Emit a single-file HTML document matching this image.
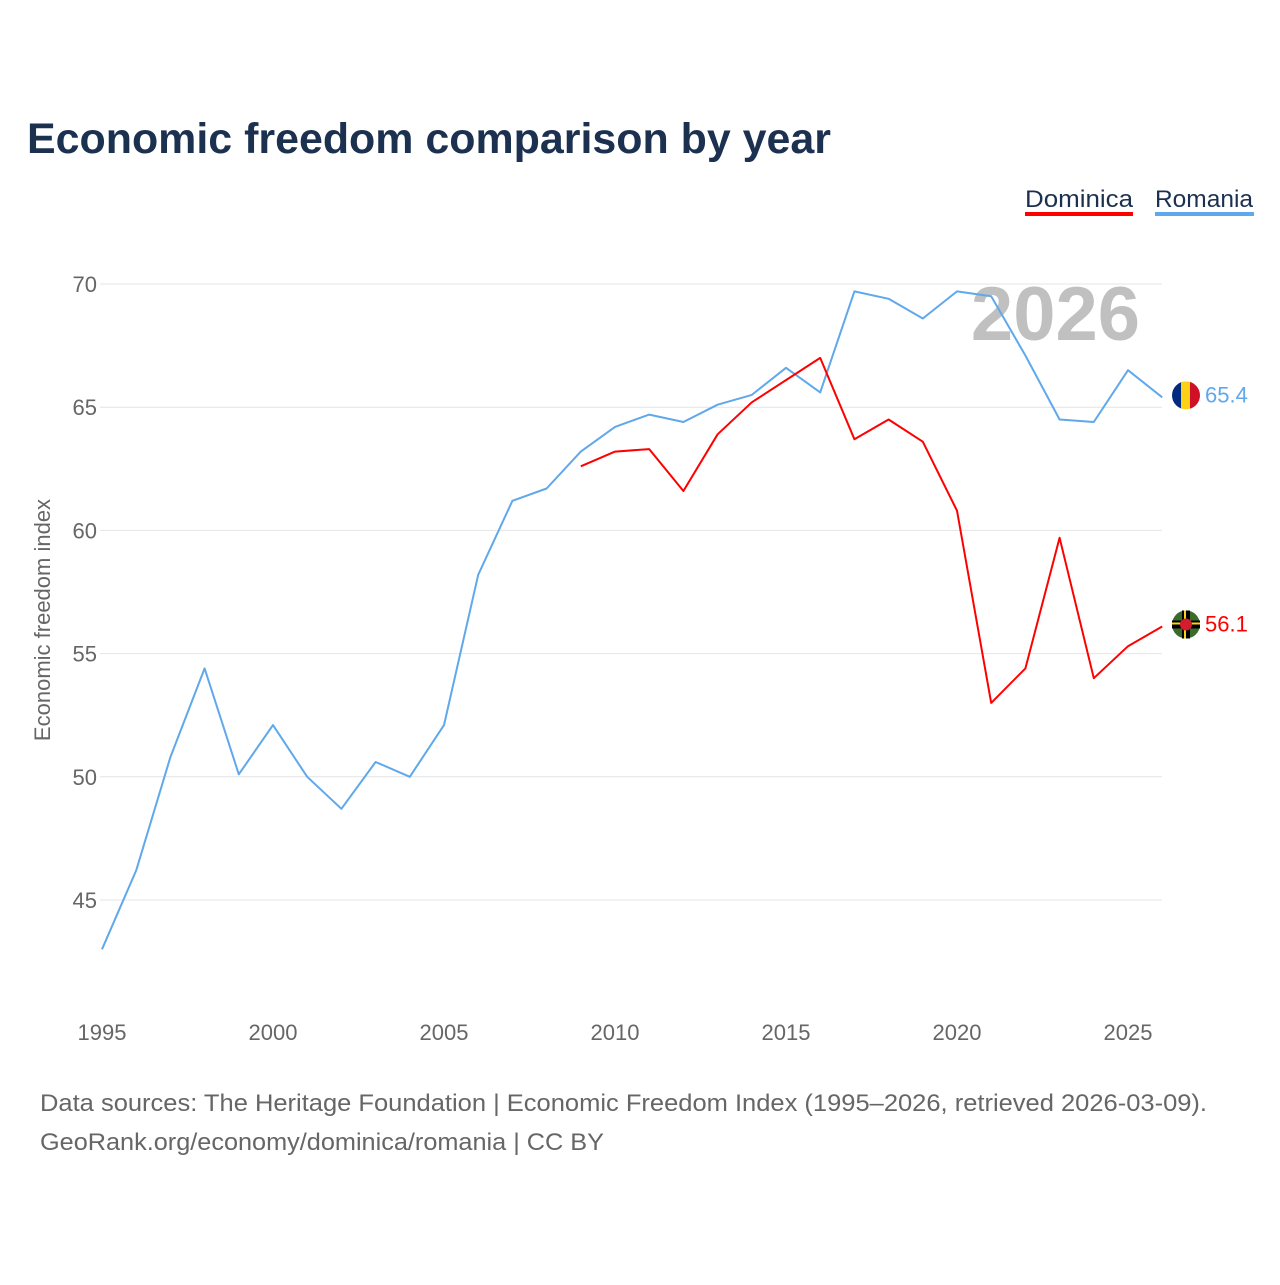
<!DOCTYPE html>
<html><head><meta charset="utf-8"><style>
body{margin:0;background:#fff;width:1280px;height:1280px;overflow:hidden;font-family:"Liberation Sans",sans-serif}
</style></head><body>
<svg width="1280" height="1280" viewBox="0 0 1280 1280" xmlns="http://www.w3.org/2000/svg">
<text x="27" y="153" font-size="43" font-weight="bold" fill="#1c3050" textLength="804" lengthAdjust="spacingAndGlyphs">Economic freedom comparison by year</text>
<g>
<text x="1025" y="207" font-size="24" fill="#1c3050" textLength="108" lengthAdjust="spacingAndGlyphs">Dominica</text>
<rect x="1025" y="212" width="108" height="4" fill="#ff0000"/>
<text x="1155" y="207" font-size="24" fill="#1c3050" textLength="98" lengthAdjust="spacingAndGlyphs">Romania</text>
<rect x="1155" y="212" width="99" height="4" fill="#5fa8ec"/>
</g>
<g id="grid"></g>
<text x="1140" y="340" font-size="76" font-weight="bold" fill="#c0c0c0" text-anchor="end">2026</text>
<g id="series"></g>
<text transform="translate(50,620) rotate(-90)" font-size="22" fill="#666" text-anchor="middle">Economic freedom index</text>
<text x="40" y="1111" font-size="24" fill="#666" textLength="1167" lengthAdjust="spacingAndGlyphs">Data sources: The Heritage Foundation | Economic Freedom Index (1995–2026, retrieved 2026-03-09).</text>
<text x="40" y="1150" font-size="24" fill="#666" textLength="564" lengthAdjust="spacingAndGlyphs">GeoRank.org/economy/dominica/romania | CC BY</text>
</svg>
<script>
const years=[1995,1996,1997,1998,1999,2000,2001,2002,2003,2004,2005,2006,2007,2008,2009,2010,2011,2012,2013,2014,2015,2016,2017,2018,2019,2020,2021,2022,2023,2024,2025,2026];
const romania=[43.0,46.2,50.8,54.4,50.1,52.1,50.0,48.7,50.6,50.0,52.1,58.2,61.2,61.7,63.2,64.2,64.7,64.4,65.1,65.5,66.6,65.6,69.7,69.4,68.6,69.7,69.5,67.1,64.5,64.4,66.5,65.4];
const dominica=[null,null,null,null,null,null,null,null,null,null,null,null,null,null,62.6,63.2,63.3,61.6,63.9,65.2,66.1,67.0,63.7,64.5,63.6,60.8,53.0,54.4,59.7,54.0,55.3,56.1];
const yTicks=[45,50,55,60,65,70];
const xTicks=[1995,2000,2005,2010,2015,2020,2025];
const NS="http://www.w3.org/2000/svg";
const X=y=>102+(y-1995)*(1128-102)/30;
const Y=v=>284+(70-v)*(900-284)/25;
const grid=document.getElementById('grid'),ser=document.getElementById('series');
function mk(tag,attrs,parent){const e=document.createElementNS(NS,tag);for(const k in attrs)e.setAttribute(k,attrs[k]);parent.appendChild(e);return e;}
yTicks.forEach(t=>{
 const l=mk('line',{x1:100,x2:1162,y1:Y(t),y2:Y(t),stroke:'#e4e4e4','stroke-width':1},grid);
 
 
 const tx=mk('text',{x:97,y:Y(t)+8,'font-size':22,fill:'#666','text-anchor':'end'},grid);tx.textContent=t;
 
 
});
xTicks.forEach(t=>{
 const tx=mk('text',{x:X(t),y:1040,'font-size':22,fill:'#666','text-anchor':'middle'},grid);tx.textContent=t;
 
 
});
function line(vals,color,name){
 const pts=[];vals.forEach((v,i)=>{if(v!=null)pts.push(X(years[i]).toFixed(1)+','+Y(v).toFixed(1));});
 const p=mk('polyline',{points:pts.join(' '),fill:'none',stroke:color,'stroke-width':2,'stroke-linejoin':'round'},ser);
 
 
 const last=vals[vals.length-1],cy=Y(last)-2;
 const g=mk('g',{},ser);
 
 
 if(name==='romania'){
  mk('clipPath',{id:'cr'},g);const c=document.getElementById('cr');mk('circle',{cx:1186,cy:cy,r:14},c);
  const fg=mk('g',{'clip-path':'url(#cr)'},g);
  mk('rect',{x:1172,y:cy-14,width:10,height:28,fill:'#002b7f'},fg);
  mk('rect',{x:1181,y:cy-14,width:10,height:28,fill:'#fcd116'},fg);
  mk('rect',{x:1190,y:cy-14,width:10,height:28,fill:'#ce1126'},fg);
 } else {
  mk('circle',{cx:1186,cy:cy,r:14,fill:'#3a6b2a'},g);
  mk('rect',{x:1172,y:cy-4,width:28,height:8,fill:'#000'},g);
  mk('rect',{x:1182,y:cy-14,width:8,height:28,fill:'#000'},g);
  mk('rect',{x:1172,y:cy-2,width:28,height:2,fill:'#fcd116'},g);
  mk('rect',{x:1184,y:cy-14,width:2,height:28,fill:'#fcd116'},g);
  mk('circle',{cx:1186,cy:cy,r:6,fill:'#d41c30'},g);
 }
 const t=mk('text',{x:1205,y:cy+7,'font-size':22,fill:color},g);t.textContent=last.toFixed(1);
}
line(romania,'#5fa8ec','romania');
line(dominica,'#ff0000','dominica');
</script>
</body></html>
